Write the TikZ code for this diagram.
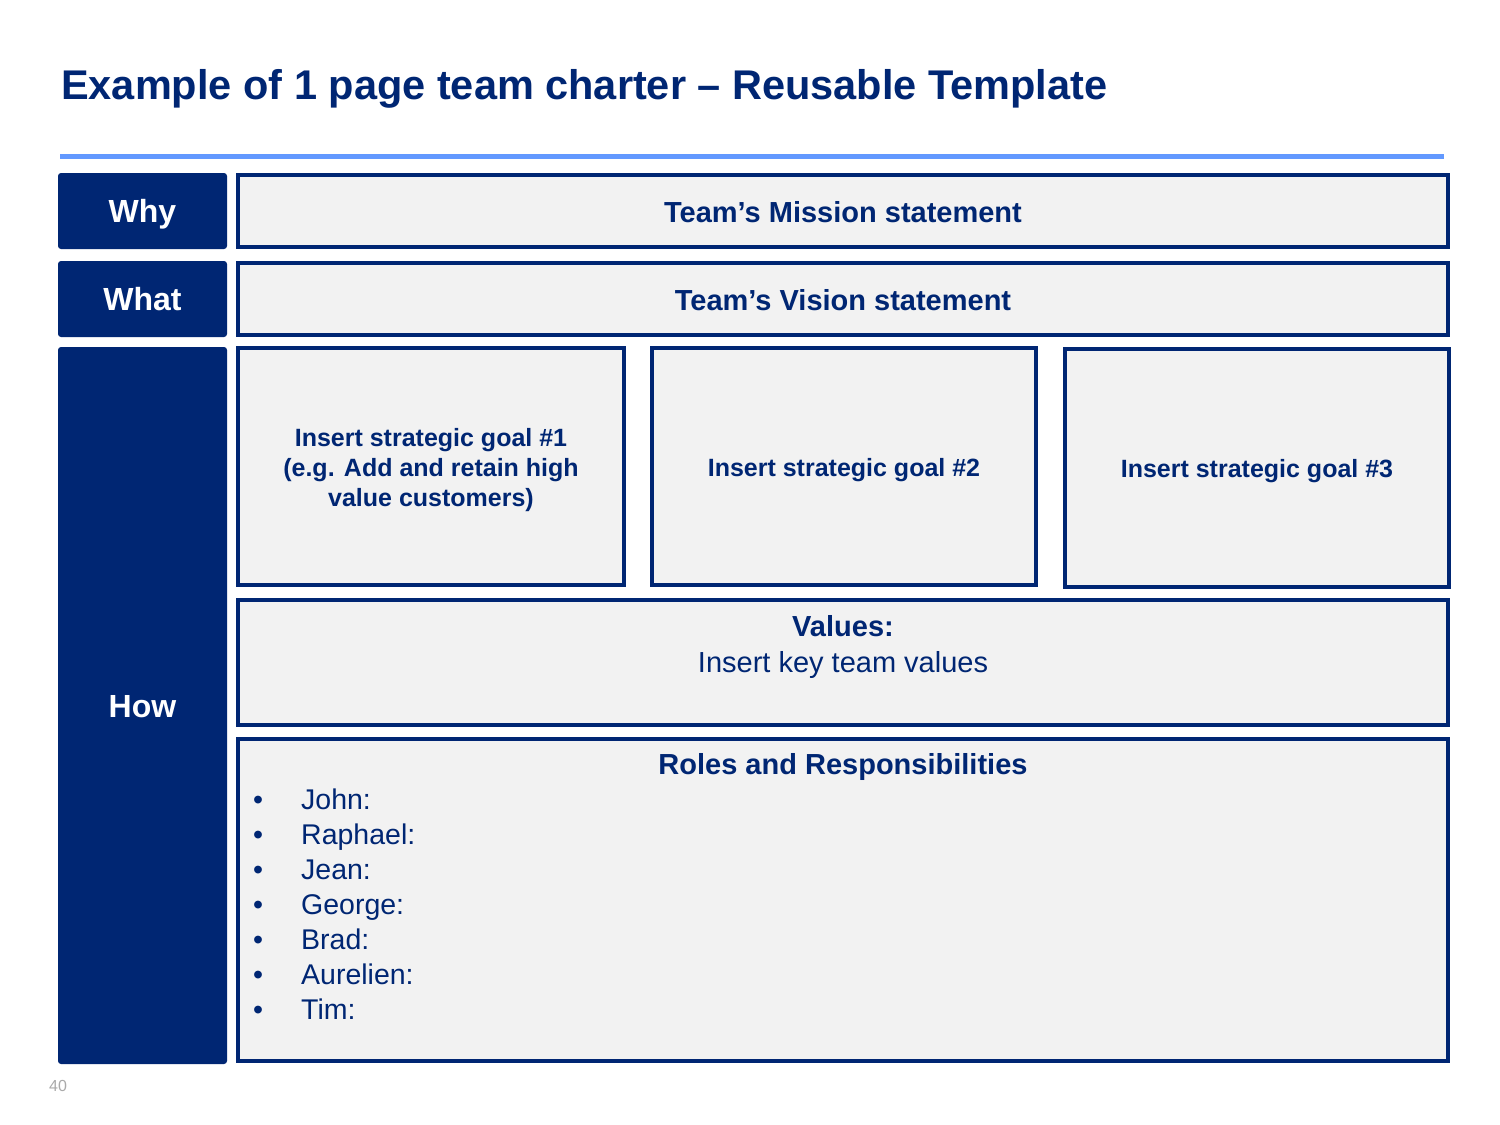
\documentclass[tikz,border=0pt]{standalone}
\usepackage{fontspec}
\setmainfont{Liberation Sans}
\definecolor{navy}{RGB}{0,38,115}
\definecolor{lightfill}{RGB}{242,242,242}
\definecolor{rulecol}{RGB}{99,153,255}
\definecolor{pagegray}{RGB}{170,170,170}
\begin{document}
\begin{tikzpicture}[x=1pt,y=-1pt,
  label box/.style={fill=navy, draw=none, rounded corners=3pt, inner sep=0pt,
    minimum width=169pt, text=white, text height=23pt, text depth=0pt,
    font=\fontsize{32}{38}\selectfont\bfseries},
  content box/.style={fill=lightfill, draw=navy, line width=4pt, inner sep=0pt,
    text=navy, align=center},
  bigtext/.style={text=navy, inner sep=0pt, anchor=base, font=\fontsize{29}{35}\selectfont},
  goaltext/.style={text=navy, inner sep=0pt, anchor=base, font=\fontsize{25}{30}\selectfont\bfseries},
  listitem/.style={text=navy, inner sep=0pt, anchor=base west, font=\fontsize{28.5}{35}\selectfont}
]
\useasboundingbox (0,0) rectangle (1500,1125);
\fill[white] (0,0) rectangle (1500,1125);

% title and rule
\node[anchor=base west, inner sep=0pt, text=navy, font=\fontsize{41.5}{48}\selectfont\bfseries]
  (title) at (61,99) {Example of 1 page team charter – Reusable Template};
\coordinate (ruleL) at (60,156);
\coordinate (ruleR) at (1444,156);
\draw[rulecol, line width=5pt] (ruleL) -- (ruleR);

% left labels
\node[label box, minimum height=76pt] (why) at (142.5,211) {Why};
\node[label box, minimum height=76pt] (what) at (142.5,299) {What};
\node[label box, minimum height=717pt] (how) at (142.5,705.5) {How};

% content boxes
\node[content box, minimum width=1210pt, minimum height=72pt] (mission) at (843,211) {};
\node[bigtext, font=\fontsize{29}{35}\selectfont\bfseries] (missionT) at (843,222) {Team’s Mission statement};
\node[content box, minimum width=1210pt, minimum height=72pt] (vision) at (843,299) {};
\node[bigtext, font=\fontsize{29}{35}\selectfont\bfseries] (visionT) at (843,310) {Team’s Vision statement};

\node[content box, minimum width=386pt, minimum height=237pt] (goal1) at (431,466.5) {};
\node[goaltext] (g1a) at (431,446) {Insert strategic goal \#1};
\node[goaltext] (g1b) at (431,476) {(e.g. Add and retain high};
\node[goaltext] (g1c) at (431,506) {value customers)};
\node[content box, minimum width=384pt, minimum height=237pt] (goal2) at (844,466.5) {};
\node[goaltext] (g2) at (844,476) {Insert strategic goal \#2};
\node[content box, minimum width=384pt, minimum height=238pt] (goal3) at (1257,468) {};
\node[goaltext] (g3) at (1257,477) {Insert strategic goal \#3};

\node[content box, minimum width=1210pt, minimum height=125pt] (values) at (843,662.5) {};
\node[bigtext, font=\fontsize{29}{35}\selectfont\bfseries] (valuesT) at (843,636) {Values:};
\node[bigtext] (valuesS) at (843,672) {Insert key team values};

\node[content box, minimum width=1210pt, minimum height=322pt] (roles) at (843,900) {};
\node[bigtext, font=\fontsize{29}{35}\selectfont\bfseries] (rolesT) at (843,774) {Roles and Responsibilities};

\foreach \nm [count=\i] in {John,Raphael,Jean,George,Brad,Aurelien,Tim} {
  \node[listitem] (r\i) at (253,{809+35*(\i-1)}) {\makebox[48pt][l]{•}\nm:};
}

% page number
\node[anchor=base west, inner sep=0pt, text=pagegray, font=\fontsize{16}{19}\selectfont]
  (pgnum) at (49,1091) {40};
\end{tikzpicture}
\end{document}
